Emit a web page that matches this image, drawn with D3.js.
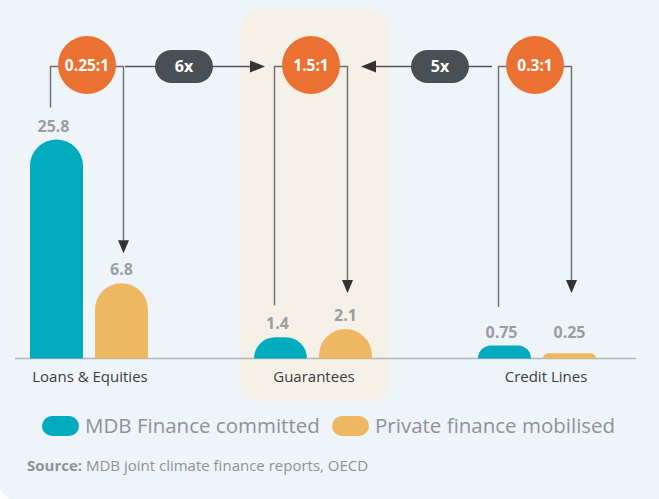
<!DOCTYPE html>
<html><head><meta charset="utf-8">
<script src="https://cdn.jsdelivr.net/npm/d3@7/dist/d3.min.js"></script>
<style>html,body{margin:0;padding:0;background:#fff;}svg{display:block;font-family:"Open Sans",sans-serif;}</style>
</head><body><svg id="c" width="659" height="499"></svg>
<script>
const categories = ["Loans & Equities", "Guarantees", "Credit Lines"];
const mdbValues = [25.8, 1.4, 0.75];
const privateValues = [6.8, 2.1, 0.25];
const valueLabels = [["25.8","6.8"],["1.4","2.1"],["0.75","0.25"]];
const ratios = ["0.25:1", "1.5:1", "0.3:1"];
const multipliers = ["6x", "5x"];
const seriesNames = ["MDB Finance committed", "Private finance mobilised"];
const highlightCategory = "Guarantees";
const sourceLabel = "Source:";
const sourceText = " MDB joint climate finance reports, OECD";

const W = 659, H = 499;
const colors = {teal:"#00abbd", gold:"#eeb863", circle:"#ea7131", pill:"#4a4f53", bg:"#eff4f9", hl:"#f5f0e8"};
const svg = d3.select("#c");

// background card (rounded bottom-left)
const r0 = 14;
svg.append("path").attr("fill", colors.bg)
  .attr("d", `M0,0H${W}V${H}H${r0}A${r0},${r0} 0 0 1 0,${H-r0}Z`);

const baseY = 358.5;
const x = d3.scalePoint().domain(categories).range([89, 537]);
const y = d3.scalePow().exponent(0.8).domain([0, 25.8]).range([0, 219]);
const barW = 53, gap = 6;

// highlight box
const hc = x(highlightCategory);
svg.append("rect").attr("x", hc-73).attr("y", 10).attr("width", 149).attr("height", 392)
  .attr("rx", 20).attr("fill", colors.hl);

function topRounded(x0, w, h) {
  const r = Math.min(w/2, h);
  return `M${x0},${baseY}V${baseY-h+r}A${r},${r} 0 0 1 ${x0+r},${baseY-h}H${x0+w-r}A${r},${r} 0 0 1 ${x0+w},${baseY-h+r}V${baseY}Z`;
}

const data = categories.map((c,i)=>({c, i, m: mdbValues[i], p: privateValues[i]}));

// baseline
svg.append("line").attr("x1", 15).attr("x2", 636).attr("y1", baseY).attr("y2", baseY)
  .attr("stroke", "#b3b6b9").attr("stroke-width", 1.5);

const g = svg.append("g");
data.forEach(d => {
  const c = x(d.c);
  const tx = c - gap - barW, ox = c + gap;
  const th = y(d.m), oh = y(d.p);
  g.append("path").attr("d", topRounded(tx, barW, th)).attr("fill", colors.teal);
  g.append("path").attr("d", topRounded(ox, barW, oh)).attr("fill", colors.gold);
  const tLab = Math.min(baseY - th - 8, baseY - 21);
  const oLab = Math.min(baseY - oh - 8, baseY - 21);
  g.append("text").attr("x", tx + barW/2 - 3).attr("y", tLab).attr("text-anchor","middle")
    .attr("font-size", 16).attr("font-weight", 700).attr("fill", "#9a9ea2").text(valueLabels[d.i][0]);
  g.append("text").attr("x", ox + barW/2).attr("y", oLab).attr("text-anchor","middle")
    .attr("font-size", 16).attr("font-weight", 700).attr("fill", "#9a9ea2").text(valueLabels[d.i][1]);
  // category label
  g.append("text").attr("x", c + (d.i===2 ? 9 : 1)).attr("y", baseY + 23).attr("text-anchor","middle")
    .attr("font-size", 15).attr("fill", "#3a3d40").text(d.c);

  // bracket lines
  const lineY = 66.5;
  const lx = tx + barW/2 - 6, rx = ox + barW/2 + 2;
  const lEnd = Math.min(tLab - 24, 307);
  const rTip = Math.min(oLab - 22, 293);
  g.append("path").attr("d", `M${lx},${lEnd}V${lineY}H${rx}V${rTip-12}`)
    .attr("fill","none").attr("stroke","#6b6e71").attr("stroke-width",1.4);
  g.append("path").attr("d", `M${rx-5.5},${rTip-13}L${rx+5.5},${rTip-13}L${rx},${rTip}Z`).attr("fill","#333");

  // ratio circle
  const cx = (lx + rx)/2;
  d.cx = cx;
  g.append("circle").attr("cx", cx).attr("cy", 65).attr("r", 29).attr("fill", colors.circle);
  g.append("text").attr("x", cx).attr("y", 70.5).attr("text-anchor","middle")
    .attr("font-size", 15.5).attr("font-weight", 700).attr("fill", "#fff").text(ratios[d.i]);
});

// horizontal arrows with multiplier pills
function hArrow(x1, x2, label, pillCx) {
  const yy = 66.5, dir = Math.sign(x2 - x1);
  g.append("line").attr("x1", x1).attr("x2", x2 - dir*14).attr("y1", yy).attr("y2", yy)
    .attr("stroke", "#555").attr("stroke-width", 1.4);
  g.append("path").attr("d", `M${x2},${yy}L${x2-dir*15},${yy-6}L${x2-dir*15},${yy+6}Z`).attr("fill","#333");
  g.append("rect").attr("x", pillCx-29).attr("y", 50).attr("width", 58).attr("height", 33)
    .attr("rx", 16.5).attr("fill", colors.pill);
  g.append("text").attr("x", pillCx).attr("y", 72).attr("text-anchor","middle")
    .attr("font-size", 16).attr("font-weight", 700).attr("fill","#fff").text(label);
}
hArrow(data[0].cx + 38, data[1].cx - 46, multipliers[0], data[0].cx + 97);
hArrow(data[2].cx - 43, data[1].cx + 50, multipliers[1], data[2].cx - 95);

// legend
const leg = svg.append("g");
const legItems = [{x:42, c:colors.teal, t:seriesNames[0]}, {x:332, c:colors.gold, t:seriesNames[1]}];
legItems.forEach(it => {
  leg.append("rect").attr("x", it.x).attr("y", 416).attr("width", 37).attr("height", 20)
    .attr("rx", 10).attr("fill", it.c);
  leg.append("text").attr("x", it.x + 43).attr("y", 433).attr("font-size", 20.5)
    .attr("fill", "#8d9297").text(it.t);
});

// source
const st = svg.append("text").attr("x", 27).attr("y", 471).attr("font-size", 15).attr("fill", "#8d9297");
st.append("tspan").attr("font-weight", 700).text(sourceLabel);
st.append("tspan").text(sourceText);
</script></body></html>
